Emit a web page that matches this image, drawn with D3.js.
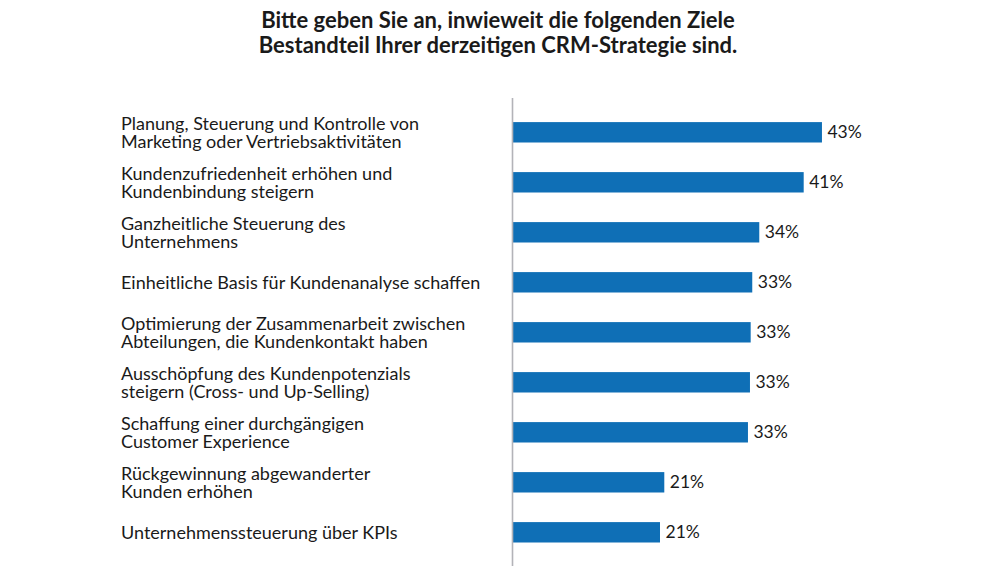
<!DOCTYPE html>
<html>
<head>
<meta charset="utf-8">
<script src="https://cdn.jsdelivr.net/npm/d3@7/dist/d3.min.js"></script>
<style>
  html, body { margin: 0; padding: 0; background: #ffffff; }
  svg { display: block; }
</style>
</head>
<body>
<svg id="chart" width="1000" height="579"></svg>
<script>
// ---- data ----
const titleLines = [
  "Bitte geben Sie an, inwieweit die folgenden Ziele",
  "Bestandteil Ihrer derzeitigen CRM-Strategie sind."
];
const categories = [
  ["Planung, Steuerung und Kontrolle von", "Marketing oder Vertriebsaktivitäten"],
  ["Kundenzufriedenheit erhöhen und", "Kundenbindung steigern"],
  ["Ganzheitliche Steuerung des", "Unternehmens"],
  ["Einheitliche Basis für Kundenanalyse schaffen"],
  ["Optimierung der Zusammenarbeit zwischen", "Abteilungen, die Kundenkontakt haben"],
  ["Ausschöpfung des Kundenpotenzials", "steigern (Cross- und Up-Selling)"],
  ["Schaffung einer durchgängigen", "Customer Experience"],
  ["Rückgewinnung abgewanderter", "Kunden erhöhen"],
  ["Unternehmenssteuerung über KPIs"]
];
const values = [43.2, 40.65, 34.45, 33.47, 33.25, 33.15, 32.87, 21.19, 20.59];
const valueLabels = ["43%", "41%", "34%", "33%", "33%", "33%", "33%", "21%", "21%"];

// ---- layout ----
const svg = d3.select("#chart");
const axisX = 512.5;
const font = "Lato, 'Open Sans', sans-serif";
const textColor = "#1a1a1a";
const barColor = "#0f6fb6";

const idx = d3.range(values.length);
const y = d3.scaleBand().domain(idx).range([107.3, 557.3]).paddingInner(0.592).paddingOuter(0.296);
const x = d3.scaleLinear().domain([0, 60]).range([axisX, axisX + 429.8]);

// title
svg.append("g").selectAll("text").data(titleLines).join("text")
  .attr("x", 498).attr("y", (d, i) => 28 + i * 25)
  .attr("text-anchor", "middle")
  .attr("font-family", font).attr("font-size", 22).attr("font-weight", 700)
  .attr("fill", textColor)
  .text(d => d);

// bars
svg.append("g").selectAll("rect").data(idx).join("rect")
  .attr("x", x(0)).attr("y", i => y(i))
  .attr("width", i => x(values[i]) - x(0))
  .attr("height", y.bandwidth())
  .attr("fill", barColor);

// axis line
svg.append("line")
  .attr("x1", axisX).attr("x2", axisX)
  .attr("y1", 98).attr("y2", 566)
  .attr("stroke", "#b3b3b8").attr("stroke-width", 1.6);

// value labels
svg.append("g").selectAll("text").data(idx).join("text")
  .attr("x", i => x(values[i]) + 5.5)
  .attr("y", i => y(i) + y.bandwidth() / 2 + 6)
  .attr("font-family", font).attr("font-size", 17.5)
  .attr("fill", textColor)
  .text(i => valueLabels[i]);

// category labels
const lab = svg.append("g").selectAll("text").data(idx).join("text")
  .attr("font-family", font).attr("font-size", 18)
  .attr("fill", textColor)
  .attr("y", i => {
    const c = y(i) + y.bandwidth() / 2;
    return categories[i].length === 1 ? c + 6.5 : c - 2;
  });
lab.selectAll("tspan").data(i => categories[i]).join("tspan")
  .attr("x", 121)
  .attr("dy", (d, j) => j === 0 ? 0 : 18)
  .text(d => d);
</script>
</body>
</html>
